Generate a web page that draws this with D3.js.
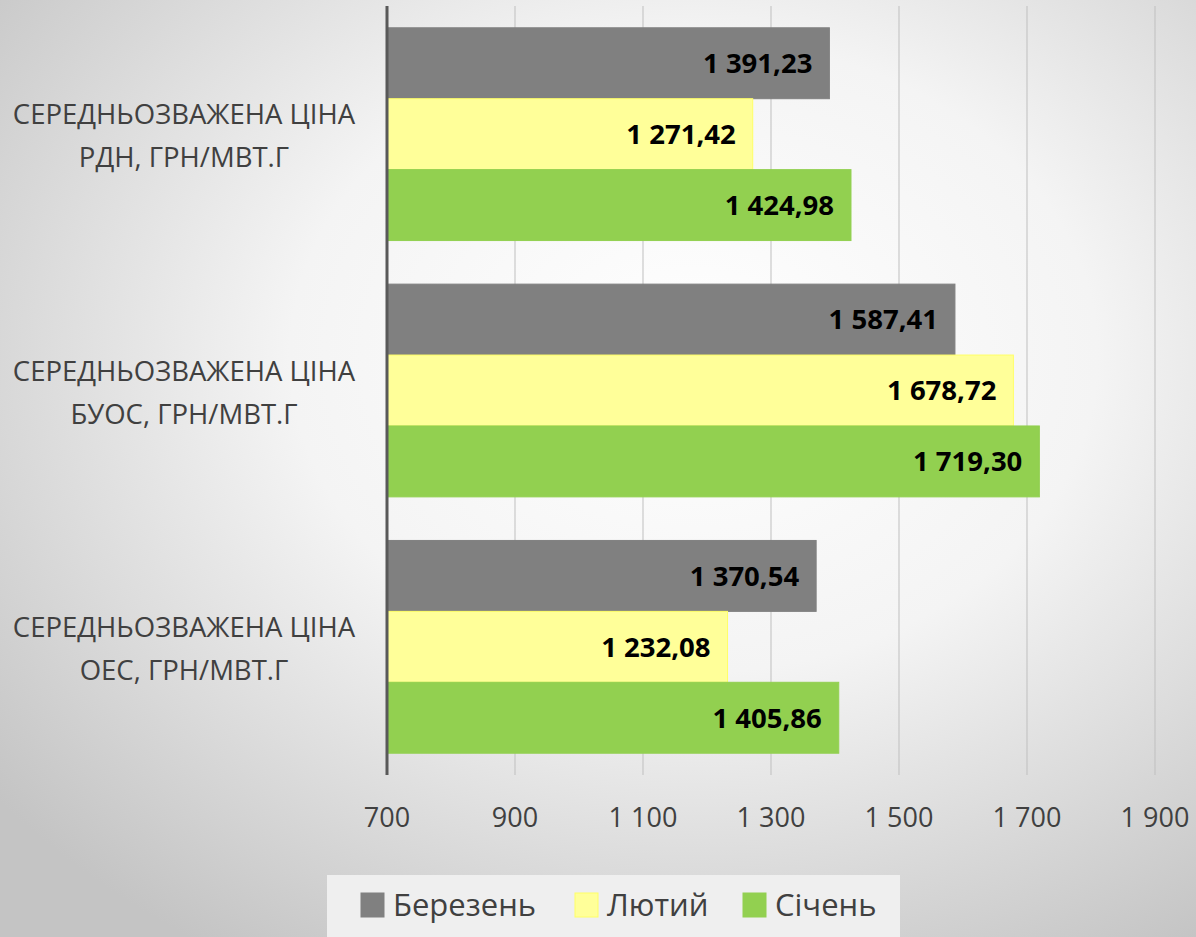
<!DOCTYPE html>
<html>
<head>
<meta charset="utf-8">
<script src="https://cdn.jsdelivr.net/npm/d3@7"></script>
<style>
  body { margin: 0; }
  svg { display: block; }
</style>
</head>
<body>
<div id="chart"></div>
<script>
// categories (top to bottom) and series
const categories = [
  ['СЕРЕДНЬОЗВАЖЕНА ЦІНА', 'РДН, ГРН/МВТ.Г'],
  ['СЕРЕДНЬОЗВАЖЕНА ЦІНА', 'БУОС, ГРН/МВТ.Г'],
  ['СЕРЕДНЬОЗВАЖЕНА ЦІНА', 'ОЕС, ГРН/МВТ.Г']
];
const seriesNames = ['Березень', 'Лютий', 'Січень'];
const berezen = [1391.23, 1587.41, 1370.54];
const lutyi = [1271.42, 1678.72, 1232.08];
const sichen = [1424.98, 1719.30, 1405.86];
const xTicks = [700, 900, 1100, 1300, 1500, 1700, 1900];

const colors = ['#808080', '#ffff99', '#92d050'];
const strokes = ['#808080', '#ffff66', '#92d050'];

const W = 1196, H = 937;
const fmt = v => d3.format(',.2f')(v).replace(/,/g, ' ').replace('.', ',');
const fmtTick = v => d3.format(',')(v).replace(/,/g, ' ');

const svg = d3.select('#chart').append('svg')
  .attr('width', W)
  .attr('height', H);

// background gradient
const defs = svg.append('defs');
const grad = defs.append('radialGradient')
  .attr('id', 'bg')
  .attr('cx', '0.58').attr('cy', '0.38').attr('r', '0.75');
grad.append('stop').attr('offset', '0').attr('stop-color', '#ffffff');
grad.append('stop').attr('offset', '0.45').attr('stop-color', '#f4f4f4');
grad.append('stop').attr('offset', '1').attr('stop-color', '#c4c4c4');
svg.append('rect').attr('width', W).attr('height', H).attr('fill', 'url(#bg)');

const x = d3.scaleLinear().domain([700, 1900]).range([387, 1155]);
const y = d3.scaleBand().domain(d3.range(categories.length))
  .range([6, 775]).paddingInner(0.17).paddingOuter(0.085);
const ySub = d3.scaleBand().domain(seriesNames).range([0, y.bandwidth()]);

const values = [berezen, lutyi, sichen];

// gridlines
svg.append('g')
  .selectAll('line')
  .data(xTicks.slice(1))
  .join('line')
  .attr('x1', d => x(d)).attr('x2', d => x(d))
  .attr('y1', 6).attr('y2', 775)
  .attr('stroke', '#bfbfbf')
  .attr('stroke-width', 1);

// bars
seriesNames.forEach((s, si) => {
  const g = svg.append('g');
  g.selectAll('rect')
    .data(values[si])
    .join('rect')
    .attr('x', x(700))
    .attr('y', (d, i) => y(i) + ySub(s))
    .attr('width', d => x(d) - x(700))
    .attr('height', ySub.bandwidth())
    .attr('fill', colors[si])
    .attr('stroke', strokes[si])
    .attr('stroke-width', 1);
  g.selectAll('text')
    .data(values[si])
    .join('text')
    .attr('x', d => x(d) - 17)
    .attr('y', (d, i) => y(i) + ySub(s) + ySub.bandwidth() / 2)
    .attr('dy', '0.36em')
    .attr('text-anchor', 'end')
    .attr('font-family', 'Open Sans, sans-serif')
    .attr('font-weight', 'bold')
    .attr('font-size', 27.5)
    .attr('fill', '#000')
    .text(d => fmt(d));
});

// axis line
svg.append('line')
  .attr('x1', x(700)).attr('x2', x(700))
  .attr('y1', 6).attr('y2', 775)
  .attr('stroke', '#595959')
  .attr('stroke-width', 3);

// x tick labels
svg.append('g')
  .selectAll('text')
  .data(xTicks)
  .join('text')
  .attr('x', d => x(d))
  .attr('y', 827)
  .attr('text-anchor', 'middle')
  .attr('font-family', 'Open Sans, sans-serif')
  .attr('font-size', 27)
  .attr('fill', '#404040')
  .text(d => fmtTick(d));

// category labels
const cat = svg.append('g');
categories.forEach((lines, i) => {
  const cy = y(i) + y.bandwidth() / 2;
  const t = cat.append('text')
    .attr('x', 184)
    .attr('text-anchor', 'middle')
    .attr('font-family', 'Open Sans, sans-serif')
    .attr('font-size', 27.5)
    .attr('fill', '#404040');
  lines.forEach((ln, k) => {
    t.append('tspan')
      .attr('x', 184)
      .attr('y', cy - 10 + k * 43)
      .text(ln);
  });
});

// legend
const leg = svg.append('g');
leg.append('rect')
  .attr('x', 327).attr('y', 875).attr('width', 573).attr('height', 62)
  .attr('fill', '#efefef');
const legX = [361, 575, 743];
seriesNames.forEach((s, i) => {
  leg.append('rect')
    .attr('x', legX[i]).attr('y', 893)
    .attr('width', 23).attr('height', 24)
    .attr('fill', colors[i])
    .attr('stroke', strokes[i]);
  leg.append('text')
    .attr('x', legX[i] + 32).attr('y', 916)
    .attr('font-family', 'Open Sans, sans-serif')
    .attr('font-size', 31)
    .attr('fill', '#404040')
    .text(s);
});
</script>
</body>
</html>
